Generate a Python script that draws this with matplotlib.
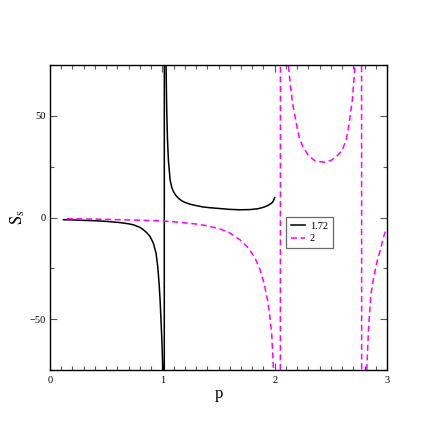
import matplotlib
matplotlib.use("Agg")
import matplotlib.pyplot as plt
from matplotlib.ticker import MultipleLocator

# ---- data ----
p_172 = [0.12, 0.2, 0.3, 0.4, 0.5, 0.623, 0.7, 0.742, 0.8, 0.831, 0.86, 0.89, 0.92,
         0.944, 0.959, 0.971, 0.98, 0.988, 0.997, 1.003, 1.006, 1.01,
         1.025, 1.031, 1.033, 1.039, 1.046, 1.054, 1.069, 1.083, 1.098, 1.12,
         1.143, 1.17, 1.202, 1.25, 1.306, 1.36, 1.425, 1.514, 1.6, 1.69, 1.78,
         1.85, 1.9, 1.94, 1.974, 1.99, 2.0]
S_172 = [-1.1, -1.2, -1.4, -1.6, -1.9, -2.5, -3.1, -3.6, -4.8, -6.0, -7.4, -9.3, -12.6,
         -17.5, -24.1, -32.3, -40.5, -50.3, -61.8, -73.3, -85, -3000,
         3000, 90, 75, 53, 38, 28.3, 18.5, 15, 12.8, 10.9,
         9.5, 8.3, 7.4, 6.5, 5.8, 5.2, 4.8, 4.4, 4.0, 3.8, 3.9,
         4.3, 5.0, 5.9, 7.1, 8.3, 9.8]

p_2 = [0.15, 0.3, 0.5, 0.7, 0.9, 1.0, 1.1, 1.2, 1.3, 1.4, 1.514, 1.603, 1.692, 1.766,
       1.826, 1.87, 1.909, 1.939, 1.959, 1.974, 1.983, 1.988, 1.992, 2.0,
       2.102, 2.12, 2.122, 2.14, 2.16, 2.197, 2.22, 2.25, 2.30, 2.36, 2.44, 2.5,
       2.55, 2.6, 2.636, 2.657, 2.69, 2.716, 2.72, 2.73,
       2.818, 2.82, 2.835, 2.856, 2.88, 2.91, 2.94, 2.97, 2.99]
S_2 = [-0.6, -0.7, -0.9, -1.2, -1.5, -1.7, -2.1, -2.6, -3.2, -4.1, -5.6, -7.7, -11, -15,
       -20, -25.7, -33.1, -41.3, -49.5, -57.7, -67.5, -73.3, -85, -10000,
       10000, 90, 75, 65, 56, 45, 39, 35, 30.5, 27.8, 27.2, 28,
       30, 33, 38, 44, 57, 75, 80, 10000,
       -10000, -75, -55, -38, -30, -22, -16, -9.5, -6]

legend_labels = ["1.72", "2"]
x_ticks = [0, 1, 2, 3]
y_ticks = [-50, 0, 50]

plt.rcParams['font.family'] = ['Liberation Serif', 'DejaVu Serif']
plt.rcParams['mathtext.fontset'] = 'stix'
plt.rcParams['lines.scale_dashes'] = False

fig = plt.figure(figsize=(4.36, 4.36), dpi=100)
ax = fig.add_axes([50/436, 1-370/436, 337/436, 305/436])

ax.plot(p_172, S_172, color='black', lw=1.1, label=legend_labels[0])
ax.plot(p_2, S_2, color='#ff00ff', lw=1.1, dashes=(4.3, 2.6), label=legend_labels[1])

ax.set_xlim(0, 3)
ax.set_ylim(-75, 75)
ax.set_xticks(x_ticks)
ax.set_yticks(y_ticks)
ax.xaxis.set_minor_locator(MultipleLocator(0.1))
ax.yaxis.set_minor_locator(MultipleLocator(25))
ax.tick_params(which='both', direction='in', top=True, right=True,
               labelsize=7.5, width=0.8, color='#555555')
ax.tick_params(which='major', length=5, pad=3)
ax.tick_params(which='minor', length=3.2)
ax.tick_params(axis='x', which='major', pad=4)
for s in ax.spines.values():
    s.set_linewidth(1.0)

ax.set_xlabel('p', fontsize=12, labelpad=1)
ax.set_ylabel(r'$\mathrm{S_s}$', fontsize=12, labelpad=2)

leg = ax.legend(loc='upper left', bbox_to_anchor=(0.70, 0.502), borderaxespad=0,
                fontsize=7.5, frameon=True, fancybox=False, handlelength=1.35,
                handletextpad=0.5, borderpad=0.45, labelspacing=0.3)
leg.get_frame().set_edgecolor('#444444')
leg.get_frame().set_linewidth(0.9)

fig.savefig('out.png', dpi=100)
